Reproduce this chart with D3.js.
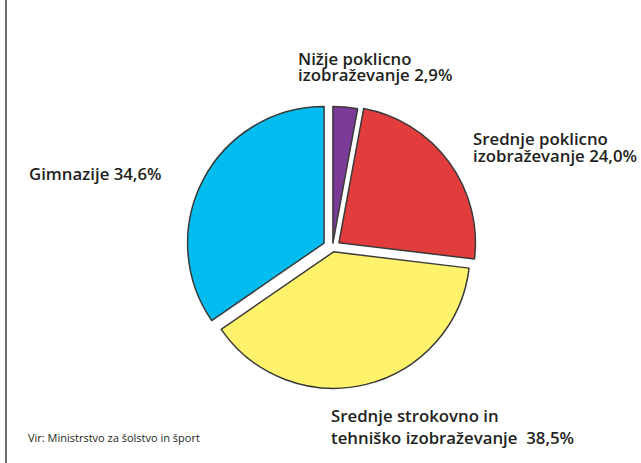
<!DOCTYPE html>
<html>
<head>
<meta charset="utf-8">
<script src="https://cdn.jsdelivr.net/npm/d3@7"></script>
<style>
  body { margin: 0; background: #fff; }
  #chart { width: 641px; height: 463px; }
  .label { font-family: "Open Sans", sans-serif; font-weight: 600; font-size: 16.8px; fill: #231f20; white-space: pre; }
  .source { font-family: "Open Sans", sans-serif; font-size: 11px; fill: #231f20; }
</style>
</head>
<body>
<div id="chart"></div>
<script>

// data
var categories = ["Nižje poklicno izobraževanje", "Srednje poklicno izobraževanje",
  "Srednje strokovno in tehniško izobraževanje", "Gimnazije"];
var shares = [2.9, 24.0, 38.5, 34.6];
var labelFirst = ["Nižje poklicno", "Srednje poklicno", "Srednje strokovno in", ""];
var labelSecond = ["izobraževanje ", "izobraževanje ", "tehniško izobraževanje  ", "Gimnazije "];
var sourceText = "Vir: Ministrstvo za šolstvo in šport";

// styles / layout
var sliceColors = ["#7a3a96", "#e23c3c", "#fff36b", "#00bcef"];
var sliceExplode = [4.5, 8, 4.5, 9.5];
var labelPos = [
  { x: 298, y: 65, lh: 15.5 },
  { x: 473, y: 145, lh: 16.5 },
  { x: 331, y: 422, lh: 22 },
  { x: 29, y: 180, lh: 0 }
];

PieChart = function(_parentElement){
  this.parentElement = _parentElement;
  this.initVis();
}

PieChart.prototype.initVis = function(){
  var vis = this;

  vis.width = 641;
  vis.height = 463;
  vis.radius = 136.5;

  vis.svg = d3.select("#" + vis.parentElement).append("svg")
      .attr("width", vis.width)
      .attr("height", vis.height);

  // frame line on the left
  vis.svg.append("line")
      .attr("x1", 6).attr("x2", 6)
      .attr("y1", 0).attr("y2", vis.height)
      .attr("stroke", "#6d6e70")
      .attr("stroke-width", 2);

  vis.pieGroup = vis.svg.append("g")
      .attr("transform", "translate(332.5,247.5)");

  vis.pie = d3.pie()
      .sort(null)
      .value(function(d) { return d.value; });

  vis.arc = d3.arc()
      .innerRadius(0)
      .outerRadius(vis.radius);

  vis.svg.append("text")
      .attr("class", "source")
      .attr("x", 28)
      .attr("y", 442)
      .text(sourceText);

  vis.wrangleData();
}

PieChart.prototype.wrangleData = function(){
  var vis = this;
  var fmt = d3.format(".1f");
  vis.displayData = categories.map(function(c, i) {
    return {
      name: c,
      value: shares[i],
      first: labelFirst[i],
      second: labelSecond[i] + fmt(shares[i]).replace(".", ",") + "%"
    };
  });
  vis.updateVis();
}

PieChart.prototype.updateVis = function(){
  var vis = this;
  var arcs = vis.pie(vis.displayData);

  vis.pieGroup.selectAll(".slice").data(arcs)
    .enter()
    .append("path")
      .attr("class", "slice")
      .attr("d", vis.arc)
      .attr("transform", function(d, i) {
        var a = (d.startAngle + d.endAngle) / 2;
        var e = sliceExplode[i];
        return "translate(" + (Math.sin(a) * e) + "," + (-Math.cos(a) * e) + ")";
      })
      .attr("fill", function(d, i) { return sliceColors[i]; })
      .attr("stroke", "#3a3a3a")
      .attr("stroke-width", 1.5)
      .attr("stroke-linejoin", "round");

  var labels = vis.svg.selectAll(".label").data(vis.displayData)
    .enter()
    .append("text")
      .attr("class", "label");

  labels.each(function(d, i) {
    var t = d3.select(this);
    var p = labelPos[i];
    if (d.first) {
      t.append("tspan").attr("x", p.x).attr("y", p.y).text(d.first);
      t.append("tspan").attr("x", p.x).attr("y", p.y + p.lh).text(d.second);
    } else {
      t.append("tspan").attr("x", p.x).attr("y", p.y).text(d.second);
    }
  });
}

var chart = new PieChart("chart");
</script>
</body>
</html>
